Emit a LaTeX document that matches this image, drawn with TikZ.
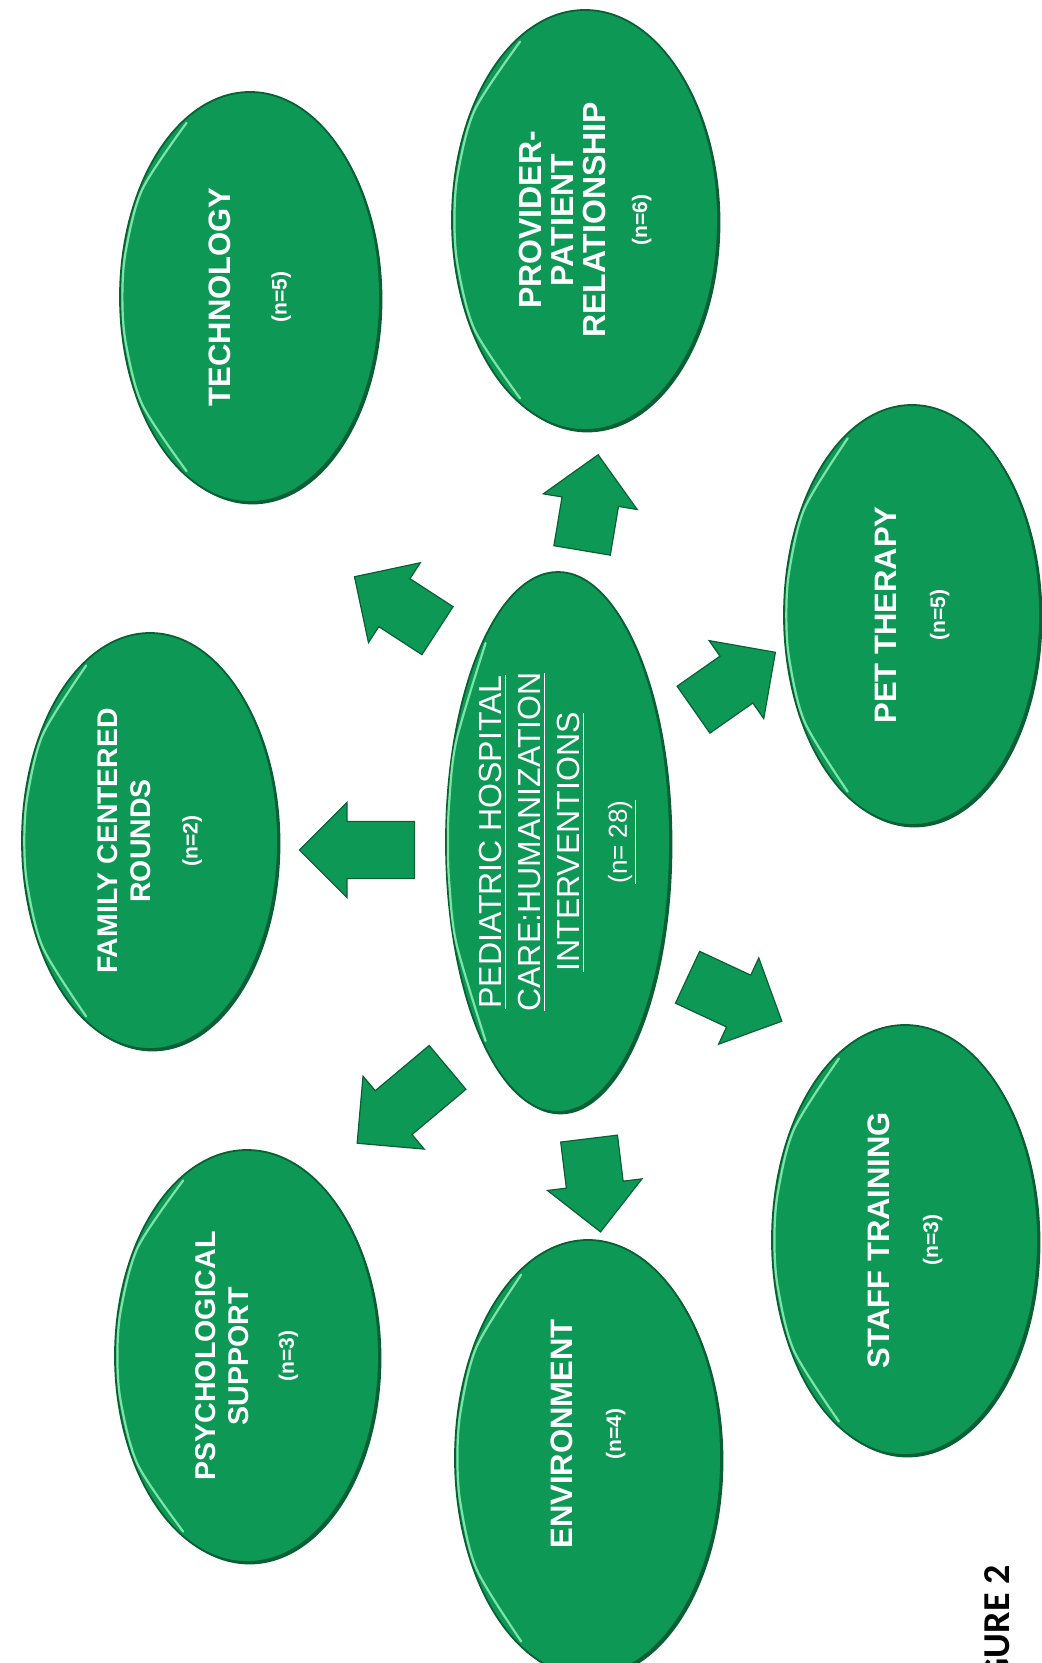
\documentclass[tikz,border=0pt]{standalone}
\usepackage{fontspec}
\setmainfont{Liberation Sans}
\newfontfamily\capfont{Carlito}
\usetikzlibrary{shapes.geometric, shapes.arrows, calc}

\definecolor{ballgreen}{RGB}{14,152,86}
\definecolor{balledge}{RGB}{8,96,52}
\definecolor{hilite}{RGB}{125,228,168}

\newcommand{\ncount}[1]{{\fontsize{10.5}{12}\selectfont #1}}

\tikzset{
  ball/.style={ellipse, fill=ballgreen, draw=balledge, line width=0.9pt, inner sep=0pt,
    preaction={fill=balledge, transform canvas={xshift=1.2pt, yshift=-1.2pt}}},
  lbl/.style={rotate=90, text=white, align=center, inner sep=0pt,
    font=\bfseries\fontsize{15.5}{16.5}\selectfont},
  rim/.style={hilite, line width=1.1pt, line cap=round},
  blockarrow/.style={single arrow, fill=ballgreen, draw=balledge, line width=0.6pt,
    inner xsep=0pt, inner ysep=14pt, single arrow head extend=9.5pt, anchor=tail}
}

\begin{document}
\begin{tikzpicture}[x=0.5pt, y=-0.5pt]
            \useasboundingbox (0,0) rectangle (1041,1663);

            % the ellipses
            \node[ball, minimum width=130pt, minimum height=205pt] (tech) at (250,297) {};
            \node[ball, minimum width=133pt, minimum height=210pt] (prov) at (585,220) {};
            \node[ball, minimum width=128pt, minimum height=210pt] (pet) at (912,615) {};
            \node[ball, minimum width=128pt, minimum height=208pt] (fam) at (150,841) {};
            \node[ball, minimum width=112pt, minimum height=270pt] (hub) at (558,842) {};
            \node[ball, minimum width=133pt, minimum height=215pt] (staff) at (905,1240) {};
            \node[ball, minimum width=133pt, minimum height=218pt] (env) at (588,1458) {};
            \node[ball, minimum width=132pt, minimum height=206pt] (psy) at (247,1356) {};

            % light rim on the left side
            \foreach \b in {tech,prov,pet,fam,hub,staff,env,psy}
                \draw[rim] plot[smooth] coordinates {($(\b.center)!0.975!(\b.110)$)
                    ($(\b.center)!0.975!(\b.135)$) ($(\b.center)!0.975!(\b.160)$)
                    ($(\b.center)!0.975!(\b.180)$) ($(\b.center)!0.975!(\b.200)$)
                    ($(\b.center)!0.975!(\b.225)$) ($(\b.center)!0.975!(\b.250)$)};

            % texts
            \node[lbl] (techtxt) at (tech) {TECHNOLOGY\\[11.5pt]\ncount{(n=5)}};
            \node[lbl, font=\bfseries\fontsize{16}{16}\selectfont] (provtxt) at (prov)
                {PROVIDER-\\PATIENT\\RELATIONSHIP\\[5pt]\ncount{(n=6)}};
            \node[lbl] (pettxt) at (pet) {PET THERAPY\\[8pt]\ncount{(n=5)}};
            \node[lbl, font=\bfseries\fontsize{14.2}{16.5}\selectfont] (famtxt) at (fam)
                {FAMILY CENTERED\\ROUNDS\\[7pt]\ncount{(n=2)}};
            \node[lbl, font=\fontsize{16}{19.5}\selectfont] (hubtxt) at (hub)
                {\underline{PEDIATRIC HOSPITAL}\\\underline{CARE:HUMANIZATION}\\\underline{INTERVENTIONS}\\[4pt]
                {\fontsize{13}{15}\selectfont\underline{(n= 28)}}};
            \node[lbl] (stafftxt) at (staff) {STAFF TRAINING\\[8pt]\ncount{(n=3)}};
            \node[lbl] (envtxt) at ([yshift=12pt]env) {ENVIRONMENT\\[8pt]\ncount{(n=4)}};
            \node[lbl, font=\bfseries\fontsize{14.3}{16.5}\selectfont] (psytxt) at (psy)
                {PSYCHOLOGICAL\\SUPPORT\\[6pt]\ncount{(n=3)}};

            % block arrows, placed by their tails
            \node[blockarrow, minimum height=49.5pt, rotate=147] (atech) at (438,631) {};
            \node[blockarrow, minimum height=48.5pt, rotate=80.5] (aprov) at (582,551) {};
            \node[blockarrow, minimum height=50pt, rotate=35] (apet) at (693,710) {};
            \node[blockarrow, minimum height=57.5pt, rotate=180] (afam) at (415,850) {};
            \node[blockarrow, minimum height=52pt, rotate=-25] (astaff) at (687,977) {};
            \node[blockarrow, minimum height=47pt, rotate=-83] (aenv) at (589,1138) {};
            \node[blockarrow, minimum height=59pt, rotate=-140] (apsy) at (448,1067) {};

            % caption
            \node[rotate=90, anchor=east, inner sep=0pt, font=\capfont\bfseries\fontsize{19}{19}\selectfont]
                (cap) at (997,1565) {GURE 2};
        \end{tikzpicture}
\end{document}
